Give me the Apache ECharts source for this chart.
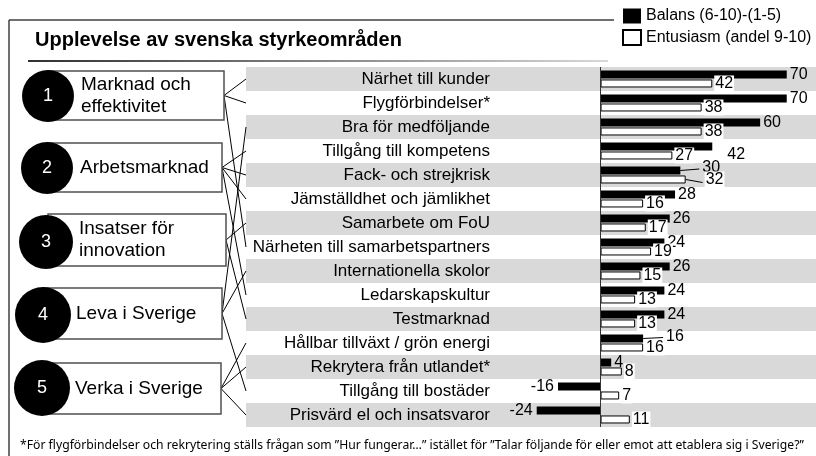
<!DOCTYPE html>
<html>
<head>
<meta charset="utf-8">
<title>Upplevelse av svenska styrkeområden</title>
<script src="https://cdn.jsdelivr.net/npm/echarts@6/dist/echarts.min.js"></script>
<style>
  html, body { margin: 0; padding: 0; background: #fff; }
  #chart { width: 816px; height: 456px; }
</style>
</head>
<body>
<div id="chart"></div>
<script>
const categories = [
  'Närhet till kunder',
  'Flygförbindelser*',
  'Bra för medföljande',
  'Tillgång till kompetens',
  'Fack- och strejkrisk',
  'Jämställdhet och jämlikhet',
  'Samarbete om FoU',
  'Närheten till samarbetspartners',
  'Internationella skolor',
  'Ledarskapskultur',
  'Testmarknad',
  'Hållbar tillväxt / grön energi',
  'Rekrytera från utlandet*',
  'Tillgång till bostäder',
  'Prisvärd el och insatsvaror'
]
const balans = [70, 70, 60, 42, 30, 28, 26, 24, 26, 24, 24, 16, 4, -16, -24]
const entusiasm = [42, 38, 38, 27, 32, 16, 17, 19, 15, 13, 13, 16, 8, 7, 11]
const seriesNames = ['Balans (6-10)-(1-5)', 'Entusiasm (andel 9-10)']

const groups = ['Marknad och\neffektivitet', 'Arbetsmarknad', 'Insatser för\ninnovation', 'Leva i Sverige', 'Verka i Sverige']
// which categories each group box points to
const groupRows = [[0, 1, 7], [3, 4, 5, 9], [6, 10], [2, 8, 13], [11, 12, 14]]

const title = 'Upplevelse av svenska styrkeområden'
const footnote = '*För flygförbindelser och rekrytering ställs frågan som ”Hur fungerar…” istället för ”Talar följande för eller emot att etablera sig i Sverige?”'

const FONT = "'Liberation Sans', Arial, sans-serif"
const BAR_W = 8
const BAR_OFF = 4.5 // half of bar + gap, centre of each bar from category centre

// hand-placed labels in the original (series -> dataIndex -> [dx, dy])
const labelShift = [
  { 3: [12, 8], 4: [19, -3], 11: [20, -2] },
  { 4: [17, 0] }
]
// labels with a short leader line
const guided = [[4, 11], [4]]

function buildData(values) {
  return values.map(v => {
    const item = { value: v }
    if (v < 0) item.label = { position: 'left', distance: 4 }
    return item
  })
}

const chart = echarts.init(document.getElementById('chart'))

const option = {
  animation: false,
  textStyle: { fontFamily: FONT },
  legend: {
    orient: 'vertical',
    left: 617,
    top: 3,
    itemWidth: 18,
    itemHeight: 15,
    itemGap: 5,
    icon: 'rect',
    data: seriesNames,
    textStyle: { fontSize: 16, color: '#000', fontFamily: FONT }
  },
  grid: { left: 246, right: 0, top: 67, bottom: 29 },
  xAxis: {
    type: 'value',
    min: -133.3,
    max: 81,
    show: false,
    splitLine: { show: false }
  },
  yAxis: {
    type: 'category',
    data: categories,
    inverse: true,
    offset: -248,
    axisLine: { show: false },
    axisTick: { show: false },
    axisLabel: { margin: 4, fontSize: 17, color: '#000', fontFamily: FONT },
    splitLine: { show: false },
    splitArea: { show: true, areaStyle: { color: ['#d9d9d9', '#ffffff'] } }
  },
  series: [
    {
      name: seriesNames[0],
      type: 'bar',
      barWidth: BAR_W,
      barGap: '12%',
      data: buildData(balans),
      itemStyle: { color: '#000' },
      label: { show: true, position: 'right', distance: 3, fontSize: 16, color: '#000', fontFamily: FONT },
      labelLayout: p => {
        const s = labelShift[0][p.dataIndex]
        return s ? { dx: s[0], dy: s[1] } : {}
      },
      markLine: {
        silent: true,
        symbol: 'none',
        label: { show: false },
        lineStyle: { color: '#333', width: 1, type: 'solid' },
        data: [{ xAxis: 0 }]
      }
    },
    {
      name: seriesNames[1],
      type: 'bar',
      barWidth: BAR_W,
      data: buildData(entusiasm),
      itemStyle: { color: '#fff', borderColor: '#000', borderWidth: 1 },
      label: {
        show: true, position: 'right', distance: 2, offset: [0, 4],
        fontSize: 16, color: '#000', fontFamily: FONT,
        backgroundColor: '#fff', padding: [0, 1]
      },
      labelLayout: p => {
        const s = labelShift[1][p.dataIndex]
        return s ? { dx: s[0], dy: s[1] } : {}
      }
    }
  ]
}

chart.setOption(option)

// decoration: frame, title, group boxes and connectors
const boxes = [
  { x: 48, y: 71, w: 176, h: 49, cx: 48, cy: 96, r: 26 },
  { x: 48, y: 143, w: 174, h: 49, cx: 47, cy: 168, r: 26 },
  { x: 48, y: 214, w: 178, h: 52, cx: 46, cy: 242, r: 27 },
  { x: 44, y: 288, w: 178, h: 51, cx: 43, cy: 315, r: 28 },
  { x: 42, y: 363, w: 179, h: 51, cx: 42, cy: 388, r: 28 }
]
const gridLeft = chart.convertToPixel({ xAxisIndex: 0 }, -133.3)

const graphics = [
  { type: 'line', silent: true, shape: { x1: 9, y1: 20, x2: 614, y2: 20 }, style: { stroke: '#404040', lineWidth: 1.5 } },
  { type: 'line', silent: true, shape: { x1: 9, y1: 20, x2: 9, y2: 456 }, style: { stroke: '#404040', lineWidth: 1.5 } },
  {
    type: 'text', silent: true, left: 35, top: 30,
    style: { text: title, font: 'bold 20px ' + FONT, fill: '#000' }
  },
  {
    type: 'rect', silent: true, shape: { x: 28, y: 60, width: 580, height: 2 },
    style: {
      fill: new echarts.graphic.LinearGradient(0, 0, 1, 0, [
        { offset: 0, color: '#303030' },
        { offset: 1, color: '#d8d8d8' }
      ])
    }
  },
  {
    type: 'text', silent: true, left: 20, top: 440,
    style: { text: footnote, font: "12.2px 'Noto Sans', sans-serif", fill: '#000' }
  }
]

// leader lines for the moved labels
const seriesValues = [balans, entusiasm]
guided.forEach((list, s) => {
  list.forEach(i => {
    const p = chart.convertToPixel({ gridIndex: 0 }, [seriesValues[s][i], categories[i]])
    const y = p[1] + (s === 0 ? -BAR_OFF : BAR_OFF) + (s === 0 ? labelShift[s][i][1] / 2 : 3)
    graphics.push({
      type: 'line', silent: true, z: 10,
      shape: { x1: p[0], y1: p[1] + (s === 0 ? -BAR_OFF : BAR_OFF), x2: p[0] + labelShift[s][i][0], y2: y },
      style: { stroke: '#000', lineWidth: 1 }
    })
  })
})

boxes.forEach((b, g) => {
  groupRows[g].forEach(i => {
    const y = chart.convertToPixel({ yAxisIndex: 0 }, categories[i])
    graphics.push({
      type: 'line', silent: true,
      shape: { x1: b.x + b.w, y1: b.y + b.h / 2, x2: gridLeft, y2: y },
      style: { stroke: '#000', lineWidth: 1 }
    })
  })
  graphics.push({
    type: 'rect', silent: true, shape: { x: b.x, y: b.y, width: b.w, height: b.h },
    style: { fill: '#fff', stroke: '#505050', lineWidth: 1.5 }
  })
  graphics.push({
    type: 'circle', silent: true, shape: { cx: b.cx, cy: b.cy, r: b.r },
    style: { fill: '#000' }
  })
  graphics.push({
    type: 'text', silent: true, x: b.cx, y: b.cy,
    style: { text: String(g + 1), font: '18px ' + FONT, fill: '#fff', align: 'center', verticalAlign: 'middle' }
  })
  graphics.push({
    type: 'text', silent: true, x: b.cx + 33, y: b.y + b.h / 2,
    style: { text: groups[g], font: '19px ' + FONT, fill: '#000', verticalAlign: 'middle', lineHeight: 22 }
  })
})

chart.setOption({ graphic: graphics })
</script>
</body>
</html>
